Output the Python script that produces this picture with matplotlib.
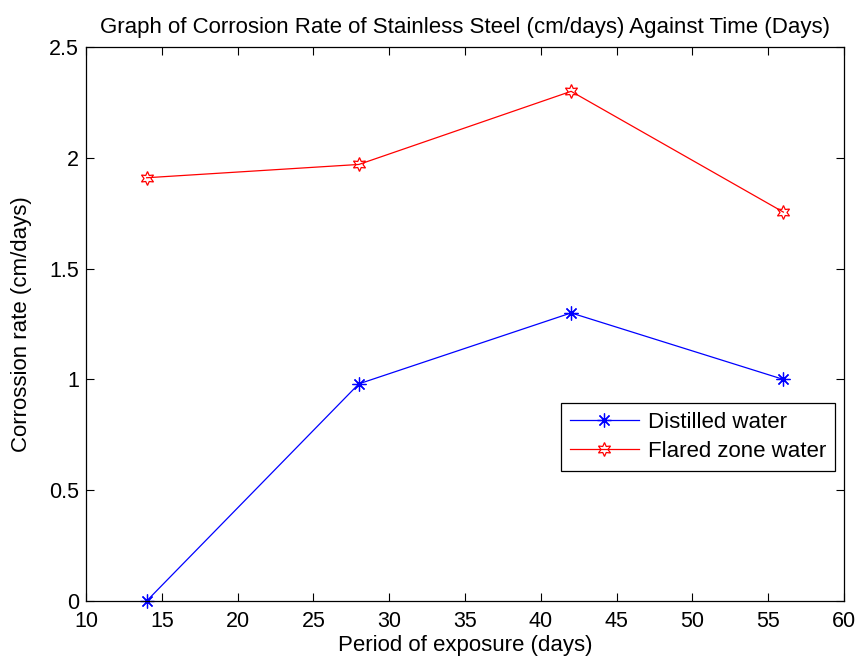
import matplotlib
matplotlib.use("Agg")
import matplotlib.pyplot as plt

plt.rcParams['font.family'] = ['Liberation Sans', 'DejaVu Sans']

days = [14, 28, 42, 56]
distilled = [0.0, 0.98, 1.30, 1.00]
flared = [1.91, 1.97, 2.30, 1.755]

fig = plt.figure(figsize=(8.58, 6.58), dpi=100)
ax = fig.add_axes([86 / 858, 1 - 601 / 658, 758 / 858, 554 / 658])

ax.plot(days, distilled, color='blue', lw=0.9, marker=(8, 2, 0), ms=10,
        mew=0.9, label='Distilled water', clip_on=False)
ax.plot(days, flared, color='red', lw=0.9, marker=(6, 1, 0), ms=10,
        mew=0.9, mfc='none', label='Flared zone water', clip_on=False)

ax.set_xlim(10, 60)
ax.set_ylim(0, 2.5)
ax.set_xticks(range(10, 61, 5))
ax.set_yticks([0, 0.5, 1, 1.5, 2, 2.5])
ax.set_yticklabels(['0', '0.5', '1', '1.5', '2', '2.5'])
ax.tick_params(direction='in', top=True, right=True, length=5.5, width=0.8,
               labelsize=15.5)
ax.tick_params(axis='x', pad=7)
ax.tick_params(axis='y', pad=5)
for s in ax.spines.values():
    s.set_linewidth(0.9)

ax.set_title('Graph of Corrosion Rate of Stainless Steel (cm/days) Against Time (Days)',
             fontsize=16, pad=10)
ax.set_xlabel('Period of exposure (days)', fontsize=16, labelpad=2)
ax.set_ylabel('Corrossion rate (cm/days)', fontsize=16, labelpad=12)

leg = ax.legend(loc='lower right', bbox_to_anchor=(0.988, 0.235), fontsize=16,
                fancybox=False, edgecolor='black', framealpha=1,
                borderaxespad=0, handlelength=3.1, handletextpad=0.4,
                borderpad=0.4, labelspacing=0.35)
leg.get_frame().set_linewidth(0.9)

fig.savefig('out.png', dpi=100)
